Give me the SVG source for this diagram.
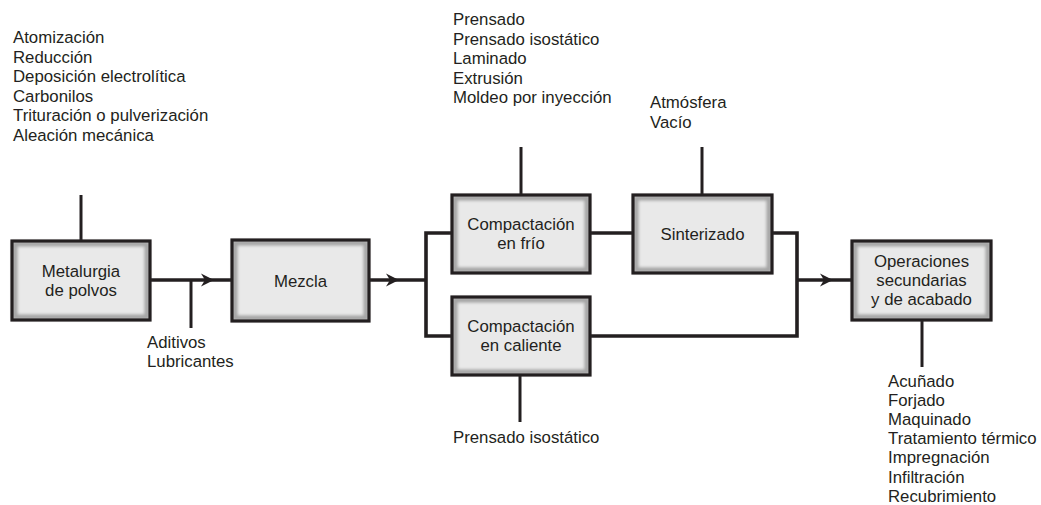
<svg xmlns="http://www.w3.org/2000/svg" width="1041" height="505" viewBox="0 0 1041 505">
<style>
text{font-family:"Liberation Sans",Arial,Helvetica,sans-serif;font-size:16.8px;fill:#231f20}
.c{text-anchor:middle}
.bg{fill:#e9e9e9}
.bev{fill:none;stroke:#a3a3a3;stroke-width:5;filter:url(#blur)}
.fr{fill:none;stroke:#231f20;stroke-width:3.2}
.ln{fill:none;stroke:#231f20;stroke-width:3.6;stroke-linejoin:miter}
.att{fill:none;stroke:#231f20;stroke-width:3}
.ah{fill:#231f20}
</style>
<defs>
<filter id="blur" x="-10%" y="-10%" width="120%" height="120%"><feGaussianBlur stdDeviation="1.8"/></filter>
<path id="arrow" d="M0,0 L-13,-6.5 L-9,0 L-13,6.5 Z"/>
</defs>
<rect width="1041" height="505" fill="#ffffff"/>

<g id="connectors">
<line class="att" x1="81" y1="195" x2="81" y2="241"/>
<line class="att" x1="191" y1="280" x2="191" y2="328"/>
<line class="att" x1="521" y1="147" x2="521" y2="195"/>
<line class="att" x1="702" y1="147" x2="702" y2="195"/>
<line class="att" x1="520" y1="375" x2="520" y2="422"/>
<line class="att" x1="922" y1="320" x2="922" y2="367"/>
<line class="ln" x1="150" y1="280" x2="232" y2="280"/>
<line class="ln" x1="369" y1="280" x2="426" y2="280"/>
<path class="ln" d="M452,233 H426 V336 H452"/>
<line class="ln" x1="590" y1="233" x2="633" y2="233"/>
<path class="ln" d="M772,233 H797 V336 H590"/>
<line class="ln" x1="797" y1="280" x2="852" y2="280"/>
<use href="#arrow" class="ah" x="214" y="280"/>
<use href="#arrow" class="ah" x="399" y="280"/>
<use href="#arrow" class="ah" x="833" y="280"/>
</g>

<g id="node-metalurgia">
<rect class="bg" x="12" y="241" width="138" height="79"/>
<rect class="bev" x="15" y="244" width="132" height="73"/>
<rect class="fr" x="12" y="241" width="138" height="79"/>
<text class="c" x="81" y="277">Metalurgia</text>
<text class="c" x="81" y="296">de polvos</text>
</g>

<g id="node-mezcla">
<rect class="bg" x="232" y="240" width="137" height="81"/>
<rect class="bev" x="235" y="243" width="131" height="75"/>
<rect class="fr" x="232" y="240" width="137" height="81"/>
<text class="c" x="300.5" y="287">Mezcla</text>
</g>

<g id="node-compactacion-frio">
<rect class="bg" x="452" y="195" width="138" height="78"/>
<rect class="bev" x="455" y="198" width="132" height="72"/>
<rect class="fr" x="452" y="195" width="138" height="78"/>
<text class="c" x="521" y="229.5">Compactación</text>
<text class="c" x="521" y="248.5">en frío</text>
</g>

<g id="node-compactacion-caliente">
<rect class="bg" x="452" y="297" width="138" height="78"/>
<rect class="bev" x="455" y="300" width="132" height="72"/>
<rect class="fr" x="452" y="297" width="138" height="78"/>
<text class="c" x="521" y="331.5">Compactación</text>
<text class="c" x="521" y="350.5">en caliente</text>
</g>

<g id="node-sinterizado">
<rect class="bg" x="633" y="195" width="139" height="78"/>
<rect class="bev" x="636" y="198" width="133" height="72"/>
<rect class="fr" x="633" y="195" width="139" height="78"/>
<text class="c" x="702.5" y="239.5">Sinterizado</text>
</g>

<g id="node-operaciones">
<rect class="bg" x="852" y="241" width="139" height="79"/>
<rect class="bev" x="855" y="244" width="133" height="73"/>
<rect class="fr" x="852" y="241" width="139" height="79"/>
<text class="c" x="921.5" y="267">Operaciones</text>
<text class="c" x="921.5" y="286">secundarias</text>
<text class="c" x="921.5" y="305">y de acabado</text>
</g>

<g id="label-metodos">
<text x="13" y="43">Atomización</text>
<text x="13" y="62.5">Reducción</text>
<text x="13" y="82">Deposición electrolítica</text>
<text x="13" y="101.5">Carbonilos</text>
<text x="13" y="121">Trituración o pulverización</text>
<text x="13" y="140.5">Aleación mecánica</text>
</g>

<g id="label-aditivos">
<text x="147" y="348">Aditivos</text>
<text x="147" y="367">Lubricantes</text>
</g>

<g id="label-prensado">
<text x="453" y="25">Prensado</text>
<text x="453" y="44.5">Prensado isostático</text>
<text x="453" y="64">Laminado</text>
<text x="453" y="83.5">Extrusión</text>
<text x="453" y="103">Moldeo por inyección</text>
</g>

<g id="label-atmosfera">
<text x="650" y="108">Atmósfera</text>
<text x="650" y="128">Vacío</text>
</g>

<g id="label-prensado-iso">
<text x="453" y="443">Prensado isostático</text>
</g>

<g id="label-acabado">
<text x="888" y="386.5">Acuñado</text>
<text x="888" y="405.7">Forjado</text>
<text x="888" y="424.9">Maquinado</text>
<text x="888" y="444.1">Tratamiento térmico</text>
<text x="888" y="463.3">Impregnación</text>
<text x="888" y="482.5">Infiltración</text>
<text x="888" y="501.7">Recubrimiento</text>
</g>
</svg>
